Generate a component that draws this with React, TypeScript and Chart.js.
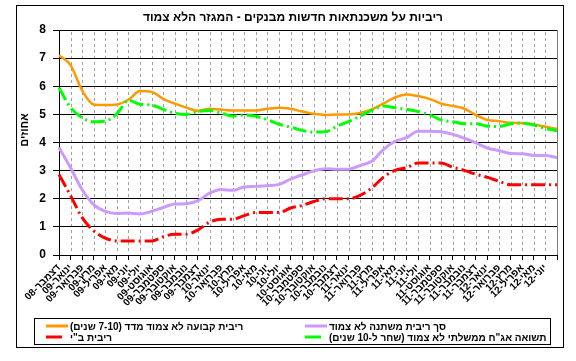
import React, { useEffect, useRef } from 'react';
import { Chart, registerables } from 'chart.js';
Chart.register(...registerables);

const FONT = '"Liberation Sans", Arial, "DejaVu Sans", sans-serif';

const TITLE = 'ריביות על משכנתאות חדשות מבנקים - המגזר הלא צמוד';
const Y_TITLE = 'אחוזים';

const months = [
  'דצמבר-08',
  'ינואר-09', 'פברואר-09', 'מרץ-09', 'אפריל-09', 'מאי-09', 'יוני-09', 'יולי-09', 'אוגוסט-09', 'ספטמבר-09', 'אוקטובר-09', 'נובמבר-09', 'דצמבר-09',
  'ינואר-10', 'פברואר-10', 'מרץ-10', 'אפריל-10', 'מאי-10', 'יוני-10', 'יולי-10', 'אוגוסט-10', 'ספטמבר-10', 'אוקטובר-10', 'נובמבר-10', 'דצמבר-10',
  'ינואר-11', 'פברואר-11', 'מרץ-11', 'אפריל-11', 'מאי-11', 'יוני-11', 'יולי-11', 'אוגוסט-11', 'ספטמבר-11', 'אוקטובר-11', 'נובמבר-11', 'דצמבר-11',
  'ינואר-12', 'פברואר-12', 'מרץ-12', 'אפריל-12', 'מאי-12', 'יוני-12', '',
];

const fixedRate = [7.1, 6.75, 5.85, 5.35, 5.33, 5.35, 5.52, 5.83, 5.8, 5.55, 5.38, 5.24, 5.13, 5.2, 5.17, 5.14, 5.14, 5.14, 5.2, 5.24, 5.2, 5.1, 5.02, 4.98, 5.0, 5.0, 5.05, 5.18, 5.38, 5.6, 5.71, 5.65, 5.55, 5.38, 5.3, 5.2, 4.98, 4.8, 4.76, 4.7, 4.69, 4.64, 4.56, 4.48];
const variableRate = [3.82, 3.1, 2.32, 1.79, 1.55, 1.48, 1.49, 1.46, 1.55, 1.69, 1.81, 1.82, 1.93, 2.2, 2.33, 2.3, 2.42, 2.44, 2.46, 2.51, 2.7, 2.85, 2.99, 3.07, 3.05, 3.05, 3.18, 3.33, 3.75, 4.04, 4.17, 4.4, 4.4, 4.38, 4.29, 4.15, 3.99, 3.8, 3.71, 3.61, 3.6, 3.54, 3.54, 3.46];
const boiRate = [2.86, 2.11, 1.33, 0.86, 0.6, 0.5, 0.5, 0.5, 0.5, 0.65, 0.74, 0.74, 0.89, 1.17, 1.27, 1.27, 1.4, 1.51, 1.51, 1.51, 1.67, 1.76, 1.9, 2.0, 2.0, 2.0, 2.12, 2.38, 2.76, 3.01, 3.1, 3.27, 3.27, 3.27, 3.12, 3.01, 2.87, 2.76, 2.62, 2.5, 2.5, 2.5, 2.5, 2.5];
const bondYield = [5.95, 5.24, 4.88, 4.74, 4.76, 5.02, 5.5, 5.36, 5.33, 5.18, 5.04, 5.0, 5.1, 5.14, 5.05, 4.94, 4.98, 4.93, 4.81, 4.65, 4.55, 4.43, 4.37, 4.38, 4.58, 4.74, 4.94, 5.14, 5.3, 5.24, 5.18, 5.1, 4.98, 4.8, 4.74, 4.67, 4.67, 4.58, 4.57, 4.67, 4.69, 4.62, 4.5, 4.42];

const seriesLabels = [
  'ריבית קבועה לא צמוד מדד (7-10 שנים)',
  'סך ריבית משתנה לא צמוד',
  'ריבית ב"י',
  'תשואה אג"ח ממשלתי לא צמוד (שחר ל-10 שנים)',
];

function drawVerticalGrid(chart: any) {
  const ctx = chart.ctx;
  const ca = chart.chartArea;
  const xs = chart.scales.x;
  const n = chart.data.labels.length;
  ctx.save();
  ctx.strokeStyle = '#a0a0a0';
  ctx.lineWidth = 1;
  ctx.setLineDash([3, 3]);
  ctx.lineDashOffset = 0;
  ctx.globalCompositeOperation = 'destination-over';
  for (let i = 1; i < n - 1; i++) {
    const x = Math.round(xs.getPixelForValue(i)) + 0.5;
    ctx.beginPath();
    ctx.moveTo(x, ca.top + 2);
    ctx.lineTo(x, ca.bottom - 1);
    ctx.stroke();
  }
  ctx.restore();
}

const decorPlugin = {
  id: 'decor',
  afterDraw(chart: any) {
    const ctx = chart.ctx;
    const ca = chart.chartArea;
    drawVerticalGrid(chart);
    ctx.save();
    ctx.strokeStyle = '#808080';
    ctx.lineWidth = 1;
    ctx.setLineDash([]);
    ctx.beginPath();
    ctx.moveTo(Math.round(ca.right) + 0.5, ca.top);
    ctx.lineTo(Math.round(ca.right) + 0.5, ca.bottom);
    ctx.stroke();

    ctx.strokeStyle = '#000000';
    ctx.strokeRect(16.5, 5.5, 547, 342);

    ctx.fillStyle = '#000';
    ctx.font = `bold 12px ${FONT}`;
    ctx.textAlign = 'center';
    ctx.textBaseline = 'middle';
    ctx.fillText(TITLE, 293, 18);

    ctx.save();
    ctx.translate(25, 130);
    ctx.rotate(-Math.PI / 2);
    ctx.font = `bold 11px ${FONT}`;
    ctx.fillText(Y_TITLE, 0, 0);
    ctx.restore();

    ctx.strokeRect(34.5, 318.5, 516, 26);
    const cols = [46, 305];
    const rows = [326, 337];
    const ds = chart.data.datasets;
    const slots = [[0, 0], [1, 0], [0, 1], [1, 1]];
    ds.forEach((d: any, i: number) => {
      const [c, r] = slots[i];
      const x = cols[c];
      const y = rows[r];
      ctx.save();
      ctx.strokeStyle = d.borderColor;
      ctx.lineWidth = 3;
      ctx.setLineDash([]);
      ctx.beginPath();
      const len = d.borderDash && d.borderDash.length ? 16 : 22;
      ctx.moveTo(x, y);
      ctx.lineTo(x + len, y);
      ctx.stroke();
      ctx.restore();
      ctx.save();
      ctx.direction = 'rtl';
      ctx.fillStyle = '#000';
      ctx.font = `bold 10px ${FONT}`;
      ctx.textAlign = 'left';
      ctx.textBaseline = 'middle';
      ctx.fillText(d.label, x + 24, y + 1);
      ctx.restore();
    });
    ctx.restore();
  },
};

export default function App() {
  const ref = useRef<HTMLCanvasElement | null>(null);
  useEffect(() => {
    if (!ref.current) return;
    const dash = [14, 4, 2, 4];
    const chart = new Chart(ref.current, {
      type: 'line',
      data: {
        labels: months,
        datasets: [
          { label: seriesLabels[0], data: fixedRate, borderColor: '#FF9900', borderWidth: 2.5, order: 1 },
          { label: seriesLabels[1], data: variableRate, borderColor: '#CC99FF', borderWidth: 3, order: 2 },
          { label: seriesLabels[2], data: boiRate, borderColor: '#FF0000', borderWidth: 3, borderDash: dash, order: 3 },
          { label: seriesLabels[3], data: bondYield, borderColor: '#00FF00', borderWidth: 3, borderDash: dash, order: 0 },
        ] as any,
      },
      options: {
        animation: false,
        responsive: false,
        devicePixelRatio: 1,
        layout: { padding: { left: 0, right: 19, top: 30, bottom: 0 } },
        elements: {
          point: { radius: 0, hoverRadius: 0 },
          line: { cubicInterpolationMode: 'monotone', borderCapStyle: 'butt', fill: false } as any,
        },
        plugins: {
          legend: { display: false },
          title: { display: false },
          tooltip: { enabled: false },
        },
        scales: {
          x: {
            type: 'category',
            offset: false,
            afterFit(scale: any) { scale.height = 106; },
            grid: {
              drawOnChartArea: false,
              color: '#000',
              lineWidth: 1,
              tickColor: '#000',
              tickLength: 5,
              offset: false,
            } as any,
            border: { color: '#000', width: 1 },
            ticks: {
              autoSkip: false,
              maxRotation: 45,
              minRotation: 45,
              padding: 2,
              color: '#000',
              font: { family: FONT, size: 10, weight: 'bold' },
            },
          },
          y: {
            min: 0,
            max: 8,
            afterFit(scale: any) { scale.width = 59; },
            grid: { color: '#000', lineWidth: 1, tickLength: 6 },
            border: { color: '#000', width: 1 },
            ticks: {
              stepSize: 1,
              padding: 7,
              color: '#000',
              font: { family: FONT, size: 12, weight: 'bold' },
            },
          },
        },
      },
      plugins: [decorPlugin],
    });
    return () => chart.destroy();
  }, []);
  return (
    <div style={{ position: 'absolute', left: 0, top: 0, width: 576, height: 361, background: '#ffffff' }}>
      <canvas ref={ref} width={576} height={361} style={{ width: 576, height: 361, display: 'block' }} />
    </div>
  );
}
